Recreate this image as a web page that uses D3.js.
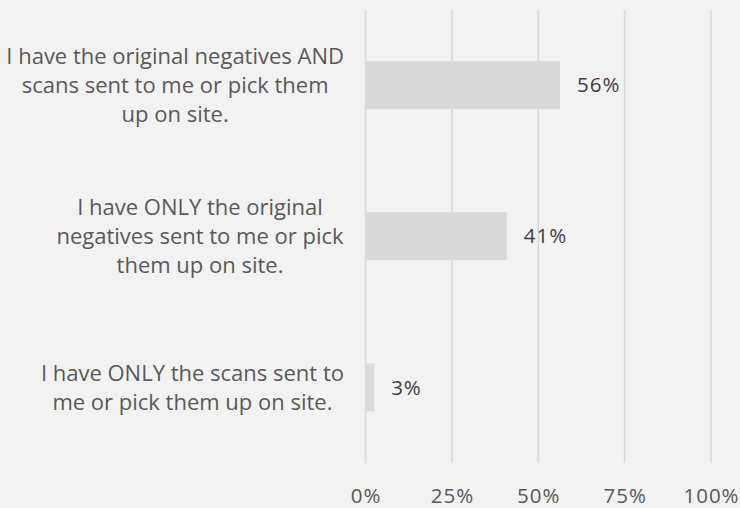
<!DOCTYPE html>
<html><head><meta charset="utf-8">
<script src="https://cdn.jsdelivr.net/npm/d3@7"></script>
<style>
html,body{margin:0;padding:0;background:#f2f2f2;}
svg{display:block;}
text{font-family:"Open Sans",sans-serif;}
</style></head>
<body>
<svg id="chart" width="740" height="508"></svg>
<script>
const categories = [
  "I have the original negatives AND\nscans sent to me or pick them\nup on site.",
  "I have ONLY the original\nnegatives sent to me or pick\nthem up on site.",
  "I have ONLY the scans sent to\nme or pick them up on site."
];
const values = [0.563, 0.409, 0.025];
const tickValues = [0, 0.25, 0.5, 0.75, 1];

const svg = d3.select("#chart");
const W = 740, H = 508;
svg.append("rect").attr("width", W).attr("height", H).attr("fill", "#f2f2f2");

const x = d3.scaleLinear().domain([0, 1]).range([365.5, 711]);
const y = d3.scaleBand().domain(categories).range([9.5, 463])
  .paddingInner(0.683).paddingOuter(0.3415);

const fs = 20.5;
// gridlines
svg.append("g").selectAll("line").data(tickValues).join("line")
  .attr("x1", d => x(d)).attr("x2", d => x(d))
  .attr("y1", 9.5).attr("y2", 463)
  .attr("stroke", "#d9d9d9").attr("stroke-width", 1.6);

// bars
svg.append("g").selectAll("rect").data(values).join("rect")
  .attr("x", x(0)).attr("y", (d, i) => y(categories[i]))
  .attr("width", d => x(d) - x(0)).attr("height", y.bandwidth())
  .attr("fill", "#d9d9d9");

// data labels
const fmt = d3.format(".0%");
svg.append("g").selectAll("text").data(values).join("text")
  .attr("x", d => x(d) + 17).attr("y", (d, i) => y(categories[i]) + y.bandwidth() / 2)
  .attr("dy", "0.35em").attr("fill", "#404040").attr("font-size", fs)
  .attr("letter-spacing", 1)
  .text(d => fmt(d));

// x axis tick labels
const xAxis = d3.axisBottom(x).tickValues(tickValues).tickFormat(d3.format(".0%")).tickSize(0).tickPadding(0);
const ax = svg.append("g").attr("transform", "translate(0,496)").call(xAxis);
ax.select(".domain").remove();
ax.selectAll("text").attr("font-size", fs).attr("fill", "#595959")
  .attr("font-family", "'Open Sans',sans-serif").attr("letter-spacing", 1)
  .attr("dy", "0.35em").attr("y", 0);

// category labels
const lfs = 22;
const lh = 29;
const rightEdge = 344;
categories.forEach((c, i) => {
  const lines = c.split("\n");
  const cy = y(c) + y.bandwidth() / 2;
  const g = svg.append("g");
  const t = g.append("text").attr("font-size", lfs).attr("fill", "#595959")
    .attr("text-anchor", "middle");
  lines.forEach((ln, j) => {
    t.append("tspan").attr("x", 0).attr("y", cy + (j - (lines.length - 1) / 2) * lh).attr("dy", "0.35em").text(ln);
  });
  const bb = g.node().getBBox();
  g.attr("transform", `translate(${rightEdge - (bb.x + bb.width)},0)`);
});
</script>
</body></html>
